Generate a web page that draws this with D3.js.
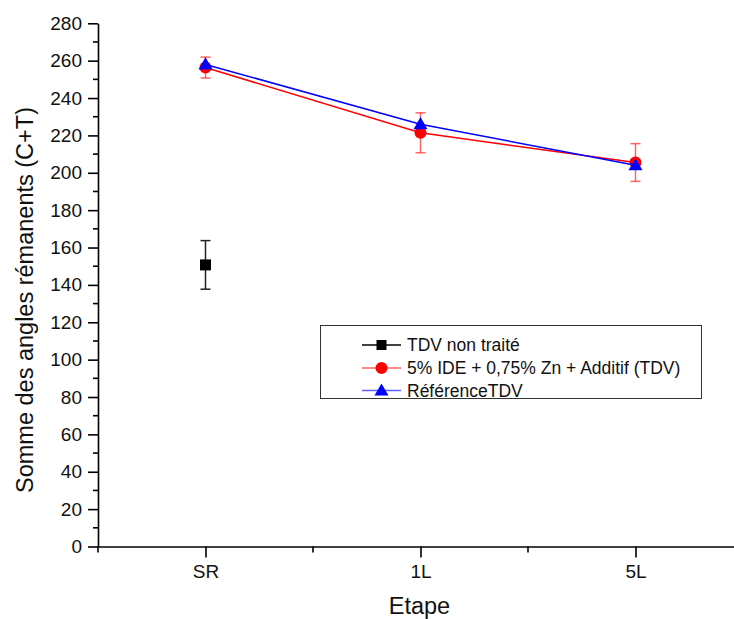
<!DOCTYPE html>
<html>
<head>
<meta charset="utf-8">
<script src="https://cdn.jsdelivr.net/npm/d3@7"></script>
<style>
  html, body { margin: 0; padding: 0; background: #fff; }
  svg { display: block; font-family: "Liberation Sans", Arial, sans-serif; }
</style>
</head>
<body>
<svg id="chart" width="734" height="619"></svg>
<script>
// ---- data ----
const categories = ["SR", "1L", "5L"];
const yTicks = [0, 20, 40, 60, 80, 100, 120, 140, 160, 180, 200, 220, 240, 260, 280];

const seriesNames = ["TDV non traité", "5% IDE + 0,75% Zn + Additif (TDV)", "RéférenceTDV"];
const untreatedValues = [150.7];
const untreatedErrors = [13];
const ideValues = [256.3, 221.4, 205.5];
const ideErrors = [5.6, 10.7, 10.1];
const refValues = [258, 226, 204];

// ---- layout ----
const svg = d3.select("#chart");
const xLeft = 98, xRight = 743, yTop = 23.3, yBottom = 546.5;

const x = d3.scaleLinear().domain([0.5, 3.5]).range([xLeft, xRight]);
const y = d3.scaleLinear().domain([0, 280]).range([yBottom, yTop]);

// ---- axes ----
const yAxis = d3.axisLeft(y).tickValues(yTicks).tickSize(10).tickPadding(6).tickSizeOuter(0);
const gy = svg.append("g").attr("transform", `translate(${xLeft},0)`).call(yAxis);
gy.select(".domain").attr("stroke", "#000").attr("stroke-width", 1.6);
gy.selectAll(".tick line").attr("stroke-width", 1.6);
gy.selectAll(".tick text").attr("font-size", 19).attr("fill", "#111");
// minor y ticks
const minorY = d3.range(10, 280, 20);
gy.selectAll(".minor").data(minorY).enter().append("line")
  .attr("x1", -5).attr("x2", 0)
  .attr("y1", d => y(d)).attr("y2", d => y(d))
  .attr("stroke", "#000").attr("stroke-width", 1.6);

const xAxis = d3.axisBottom(x).tickValues([1, 2, 3]).tickFormat(d => categories[d - 1])
  .tickSize(11).tickPadding(7).tickSizeOuter(0);
const gx = svg.append("g").attr("transform", `translate(0,${yBottom})`).call(xAxis);
gx.select(".domain").attr("stroke", "#000").attr("stroke-width", 1.6);
gx.selectAll(".tick line").attr("stroke-width", 1.6);
gx.selectAll(".tick text").attr("font-size", 19).attr("fill", "#111");
const minorX = [0.5, 1.5, 2.5, 3.5];
gx.selectAll(".minor").data(minorX).enter().append("line")
  .attr("x1", d => x(d)).attr("x2", d => x(d))
  .attr("y1", 0).attr("y2", 6)
  .attr("stroke", "#000").attr("stroke-width", 1.6);

// axis titles
svg.append("text").attr("x", 419.5).attr("y", 614)
  .attr("text-anchor", "middle").attr("font-size", 23.5).attr("fill", "#111").text("Etape");
svg.append("text")
  .attr("transform", `translate(33,300) rotate(-90)`)
  .attr("text-anchor", "middle").attr("font-size", 23.5).attr("fill", "#111")
  .text("Somme des angles rémanents (C+T)");

// ---- marks ----
const plot = svg.append("g");
function errorBars(vals, errs, color, opacity) {
  vals.forEach((v, i) => {
    const cx = x(i + 1);
    const g = plot.append("g").attr("stroke", color).attr("stroke-width", 1.5).attr("stroke-opacity", opacity);
    g.append("line").attr("x1", cx).attr("x2", cx).attr("y1", y(v - errs[i])).attr("y2", y(v + errs[i]));
    g.append("line").attr("x1", cx - 5).attr("x2", cx + 5).attr("y1", y(v - errs[i])).attr("y2", y(v - errs[i]));
    g.append("line").attr("x1", cx - 5).attr("x2", cx + 5).attr("y1", y(v + errs[i])).attr("y2", y(v + errs[i]));
  });
}
const line = d3.line().x((d, i) => x(i + 1)).y(d => y(d));

// untreated
errorBars(untreatedValues, untreatedErrors, "#222", 1);
plot.selectAll(".sq").data(untreatedValues).enter().append("path")
  .attr("d", d3.symbol(d3.symbolSquare, 121))
  .attr("transform", (d, i) => `translate(${x(i + 1)},${y(d)})`).attr("fill", "#000");

// IDE (red)
errorBars(ideValues, ideErrors, "#ff0000", 0.6);
plot.append("path").datum(ideValues).attr("d", line).attr("fill", "none")
  .attr("stroke", "#ff0000").attr("stroke-width", 1.5);
plot.selectAll(".ci").data(ideValues).enter().append("circle")
  .attr("cx", (d, i) => x(i + 1)).attr("cy", d => y(d)).attr("r", 6).attr("fill", "#ff0000");

// reference (blue)
plot.append("path").datum(refValues).attr("d", line).attr("fill", "none")
  .attr("stroke", "#0000ff").attr("stroke-width", 1.5);
const tri = d3.symbol(d3.symbolTriangle, 85);
plot.selectAll(".tr").data(refValues).enter().append("path")
  .attr("d", tri).attr("transform", (d, i) => `translate(${x(i + 1)},${y(d) + 1})`).attr("fill", "#0000ff");

// ---- legend ----
const lg = svg.append("g");
lg.append("rect").attr("x", 320.5).attr("y", 325.5).attr("width", 381).attr("height", 73)
  .attr("fill", "#fff").attr("stroke", "#333").attr("stroke-width", 1);
const legendColors = ["#000", "#ff0000", "#0000ff"];
const legendLine = ["#000", "#ff6060", "#6060ff"];
const rowsY = [345, 368, 390.5];
seriesNames.forEach((name, i) => {
  const cy = rowsY[i];
  lg.append("line").attr("x1", 362).attr("x2", 401).attr("y1", cy).attr("y2", cy)
    .attr("stroke", legendLine[i]).attr("stroke-width", 1.3);
  const sym = i === 0 ? d3.symbol(d3.symbolSquare, 100) : i === 1 ? d3.symbol(d3.symbolCircle, 113) : d3.symbol(d3.symbolTriangle, 85);
  lg.append("path").attr("d", sym).attr("transform", `translate(381.5,${cy + (i === 2 ? 1 : 0)})`)
    .attr("fill", legendColors[i]);
  lg.append("text").attr("x", 407).attr("y", cy + 6).attr("font-size", 17.5).attr("fill", "#111").text(name);
});
</script>
</body>
</html>
